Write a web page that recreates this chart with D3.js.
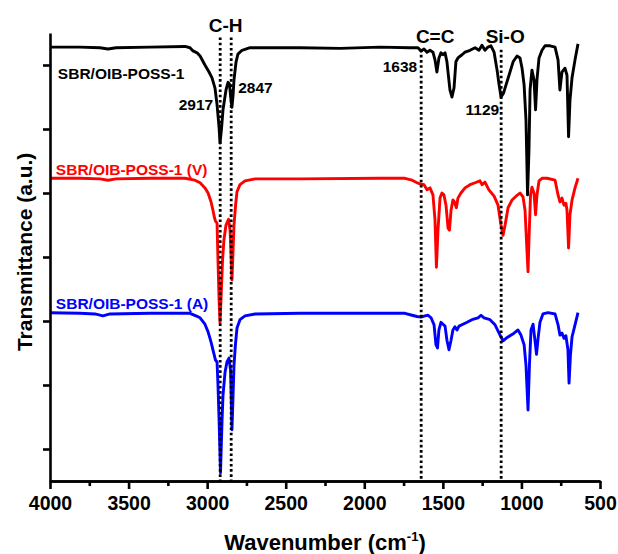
<!DOCTYPE html>
<html>
<head>
<meta charset="utf-8">
<script src="https://cdn.jsdelivr.net/npm/d3@7"></script>
<style>
    body { margin: 0; background: #fff; }
    text { font-family: "Liberation Sans", Arial, sans-serif; font-weight: bold; }
    .axis path, .axis line { stroke: #000; stroke-width: 2.6; }
</style>
</head>
<body>
<script>

// spectra: wavenumber (cm-1) and transmittance (a.u., offset)
const wnBlack = [4000, 3809, 3682, 3631, 3580, 3364, 3141, 3109, 3090, 3064, 3045, 3014, 2988, 2969, 2950, 2937, 2924, 2918, 2908, 2899, 2880, 2867, 2858, 2848, 2842, 2835, 2829, 2816, 2804, 2778, 2727, 2409, 2154, 1900, 1709, 1658, 1639, 1620, 1601, 1582, 1563, 1550, 1538, 1525, 1512, 1499, 1486, 1474, 1455, 1442, 1429, 1417, 1404, 1378, 1359, 1327, 1295, 1270, 1251, 1232, 1213, 1194, 1174, 1155, 1142, 1130, 1114, 1098, 1079, 1053, 1028, 1009, 996, 983, 971, 961, 952, 945, 933, 920, 910, 901, 888, 869, 850, 818, 786, 767, 755, 742, 723, 710, 700, 691, 678, 659, 640];
const tBlack = [6.78, 6.78, 6.77, 6.75, 6.77, 6.78, 6.79, 6.77, 6.72, 6.69, 6.64, 6.50, 6.39, 6.30, 6.14, 5.88, 5.52, 5.28, 5.52, 5.80, 6.11, 6.23, 6.20, 5.95, 5.84, 6.03, 6.27, 6.55, 6.67, 6.73, 6.77, 6.77, 6.76, 6.78, 6.77, 6.77, 6.72, 6.75, 6.70, 6.73, 6.70, 6.58, 6.39, 6.61, 6.69, 6.66, 6.69, 6.55, 6.11, 6.00, 6.14, 6.55, 6.61, 6.66, 6.70, 6.73, 6.77, 6.73, 6.81, 6.73, 6.78, 6.80, 6.70, 6.42, 6.19, 6.00, 6.06, 6.19, 6.34, 6.55, 6.64, 6.61, 6.45, 6.19, 5.64, 4.47, 5.17, 6.11, 6.42, 6.27, 5.80, 6.27, 6.61, 6.73, 6.80, 6.80, 6.78, 6.58, 6.11, 6.39, 6.45, 6.34, 5.38, 5.95, 6.30, 6.58, 6.83];

const wnRed = [4000, 3809, 3682, 3631, 3580, 3364, 3141, 3078, 3045, 3014, 2994, 2975, 2963, 2953, 2947, 2937, 2931, 2924, 2918, 2912, 2902, 2893, 2880, 2864, 2854, 2848, 2842, 2835, 2829, 2819, 2810, 2791, 2759, 2695, 2409, 1900, 1741, 1696, 1664, 1639, 1620, 1601, 1582, 1563, 1550, 1541, 1531, 1518, 1506, 1493, 1480, 1467, 1458, 1448, 1436, 1426, 1414, 1404, 1385, 1359, 1327, 1295, 1264, 1251, 1232, 1207, 1174, 1149, 1130, 1117, 1104, 1085, 1060, 1034, 1009, 990, 977, 965, 958, 952, 942, 933, 920, 910, 901, 888, 869, 837, 786, 767, 755, 742, 729, 717, 710, 700, 691, 678, 659, 640];
const tRed = [4.73, 4.73, 4.72, 4.70, 4.72, 4.73, 4.73, 4.70, 4.66, 4.58, 4.50, 4.36, 4.23, 4.11, 4.06, 4.03, 3.45, 2.83, 2.47, 2.83, 3.45, 3.77, 4.00, 4.09, 3.92, 3.53, 3.14, 3.61, 4.00, 4.31, 4.52, 4.63, 4.69, 4.72, 4.72, 4.73, 4.73, 4.70, 4.66, 4.64, 4.63, 4.55, 4.58, 4.47, 4.08, 3.34, 3.92, 4.42, 4.50, 4.47, 4.31, 3.95, 3.92, 4.23, 4.39, 4.36, 4.27, 4.42, 4.50, 4.58, 4.63, 4.66, 4.69, 4.63, 4.67, 4.55, 4.45, 4.31, 4.00, 3.84, 4.00, 4.27, 4.39, 4.45, 4.50, 4.44, 4.23, 3.61, 3.27, 3.77, 4.47, 4.59, 4.50, 4.16, 4.47, 4.69, 4.73, 4.73, 4.70, 4.47, 4.36, 4.42, 4.31, 4.34, 4.23, 3.64, 4.16, 4.39, 4.58, 4.73];

const wnBlue = [4000, 3809, 3714, 3663, 3618, 3364, 3109, 3071, 3045, 3014, 2994, 2975, 2963, 2953, 2947, 2937, 2931, 2924, 2915, 2905, 2899, 2886, 2874, 2861, 2851, 2842, 2835, 2829, 2820, 2810, 2791, 2759, 2695, 2409, 1900, 1741, 1696, 1664, 1639, 1614, 1594, 1575, 1556, 1544, 1534, 1525, 1512, 1499, 1486, 1474, 1461, 1448, 1436, 1423, 1410, 1397, 1372, 1346, 1315, 1276, 1257, 1238, 1200, 1168, 1136, 1117, 1098, 1073, 1047, 1022, 1003, 983, 971, 958, 949, 939, 926, 914, 904, 894, 882, 863, 831, 786, 767, 755, 742, 729, 717, 704, 697, 688, 678, 659, 640];
const tBlue = [2.63, 2.62, 2.61, 2.58, 2.61, 2.62, 2.62, 2.58, 2.55, 2.45, 2.33, 2.17, 2.05, 1.95, 1.89, 1.86, 1.50, 0.95, 0.13, 0.95, 1.34, 1.70, 1.86, 1.92, 1.73, 0.80, 1.34, 1.81, 2.13, 2.39, 2.52, 2.58, 2.61, 2.62, 2.62, 2.62, 2.59, 2.57, 2.56, 2.58, 2.59, 2.55, 2.44, 2.13, 2.08, 2.36, 2.48, 2.45, 2.42, 2.20, 2.05, 2.20, 2.36, 2.41, 2.36, 2.42, 2.45, 2.48, 2.52, 2.55, 2.59, 2.55, 2.52, 2.44, 2.28, 2.19, 2.23, 2.27, 2.31, 2.36, 2.28, 2.13, 1.81, 1.11, 1.81, 2.36, 2.45, 2.20, 1.98, 2.23, 2.48, 2.61, 2.63, 2.61, 2.44, 2.28, 2.31, 2.23, 2.27, 2.05, 1.53, 1.97, 2.25, 2.44, 2.63];

const seriesNames = ["SBR/OIB-POSS-1", "SBR/OIB-POSS-1 (V)", "SBR/OIB-POSS-1 (A)"];
const seriesColors = ["#000000", "#ff0000", "#0000ff"];
const seriesLabelY = [6.28, 4.78, 2.69];

const bandNames = ["C-H", "C=C", "Si-O"];
const bandLines = [2917, 2847, 1638, 1129];
const peakLabels = ["2917", "2847", "1638", "1129"];

const majorTicks = [4000, 3500, 3000, 2500, 2000, 1500, 1000, 500];
const minorTicks = [3750, 3250, 2750, 2250, 1750, 1250, 750];
const yTicks = [0.5, 1.5, 2.5, 3.5, 4.5, 5.5, 6.5];

const w = 618;
const h = 554;
const margin = {top: 33, right: 18, bottom: 73, left: 50};

const svg = d3.select("body")
    .append("svg")
    .attr("width", w)
    .attr("height", h);

let x = d3.scaleLinear()
    .domain([4000, 500])
    .range([margin.left, w - margin.right]);

let y = d3.scaleLinear()
    .domain([0, 7])
    .range([h - margin.bottom, margin.top]);

let line = d3.line()
    .x(d => x(d[0]))
    .y(d => y(d[1]));

const spectra = [
    d3.zip(wnBlack, tBlack),
    d3.zip(wnRed, tRed),
    d3.zip(wnBlue, tBlue)
];

// blue first, black on top
[2, 1, 0].forEach(i => {
    svg.append("path")
        .datum(spectra[i])
        .attr("fill", "none")
        .attr("stroke", seriesColors[i])
        .attr("stroke-width", 2.9)
        .attr("stroke-linejoin", "round")
        .attr("d", line);
});

// dotted band markers
const lineTops = [6.93, 6.93, 6.74, 6.74];
svg.append("g")
    .selectAll("line")
    .data(bandLines)
    .enter().append("line")
    .attr("x1", d => x(d))
    .attr("x2", d => x(d))
    .attr("y1", (d, i) => y(lineTops[i]))
    .attr("y2", y(0))
    .attr("stroke", "#000")
    .attr("stroke-width", 2.8)
    .attr("stroke-dasharray", "2.6,2.6");

// x axis, major and minor ticks
svg.append("g")
    .attr("class", "axis")
    .attr("transform", `translate(0,${y(0)})`)
    .call(d3.axisBottom(x).tickValues(minorTicks).tickSize(5).tickSizeOuter(0).tickFormat(""));

let xAxis = svg.append("g")
    .attr("class", "axis")
    .attr("transform", `translate(0,${y(0)})`)
    .call(d3.axisBottom(x).tickValues(majorTicks).tickSize(8).tickPadding(7).tickSizeOuter(0).tickFormat(d3.format("d")));

xAxis.attr("font-family", "Liberation Sans, Arial, sans-serif")
    .attr("font-size", 19.5)
    .attr("font-weight", "bold");
xAxis.selectAll("text")
    .attr("fill", "#000")
    .style("font-weight", "bold");

svg.append("g")
    .attr("class", "axis")
    .attr("transform", `translate(${x(4000)},0)`)
    .call(d3.axisLeft(y).tickValues(yTicks).tickSize(7).tickSizeOuter(0).tickFormat(""));

// series labels
svg.selectAll(".seriesLabel")
    .data(seriesNames)
    .enter().append("text")
    .attr("class", "seriesLabel")
    .attr("x", (d, i) => x(3950) - (i ? 2 : 0))
    .attr("y", (d, i) => y(seriesLabelY[i]))
    .attr("fill", (d, i) => seriesColors[i])
    .attr("font-size", "15.5px")
    .text(d => d);

// band names above the plot
const bandX = [(bandLines[0] + bandLines[1]) / 2, 1638, 1129];
const bandY = [27, 38, 38];
svg.selectAll(".band")
    .data(bandNames)
    .enter().append("text")
    .attr("class", "band")
    .attr("x", (d, i) => x(bandX[i]) + (i == 2 ? 4 : 14 * (i == 1)))
    .attr("y", (d, i) => bandY[i] + 5)
    .attr("text-anchor", "middle")
    .attr("font-size", "19px")
    .text(d => d);

// peak wavenumbers
const peakDx = [-7, 7, -4, -2];
const peakY = [5.8, 6.07, 6.39, 5.72];
svg.selectAll(".peak")
    .data(peakLabels)
    .enter().append("text")
    .attr("class", "peak")
    .attr("x", (d, i) => x(bandLines[i]) + peakDx[i])
    .attr("y", (d, i) => y(peakY[i]))
    .attr("text-anchor", (d, i) => i == 1 ? "start" : "end")
    .attr("font-size", "15.5px")
    .text(d => d);

// axis titles
let xTitle = svg.append("text")
    .attr("x", x(2250))
    .attr("y", 550)
    .attr("text-anchor", "middle")
    .attr("font-size", "22px");
xTitle.append("tspan").text("Wavenumber (cm");
xTitle.append("tspan").attr("font-size", "13px").attr("dy", "-9").text("-1");
xTitle.append("tspan").attr("dy", "9").text(")");

svg.append("text")
    .attr("transform", `translate(32,${y(3.58)}) rotate(-90)`)
    .attr("text-anchor", "middle")
    .attr("font-size", "21px")
    .text("Transmittance (a.u.)");

</script>
</body>
</html>
